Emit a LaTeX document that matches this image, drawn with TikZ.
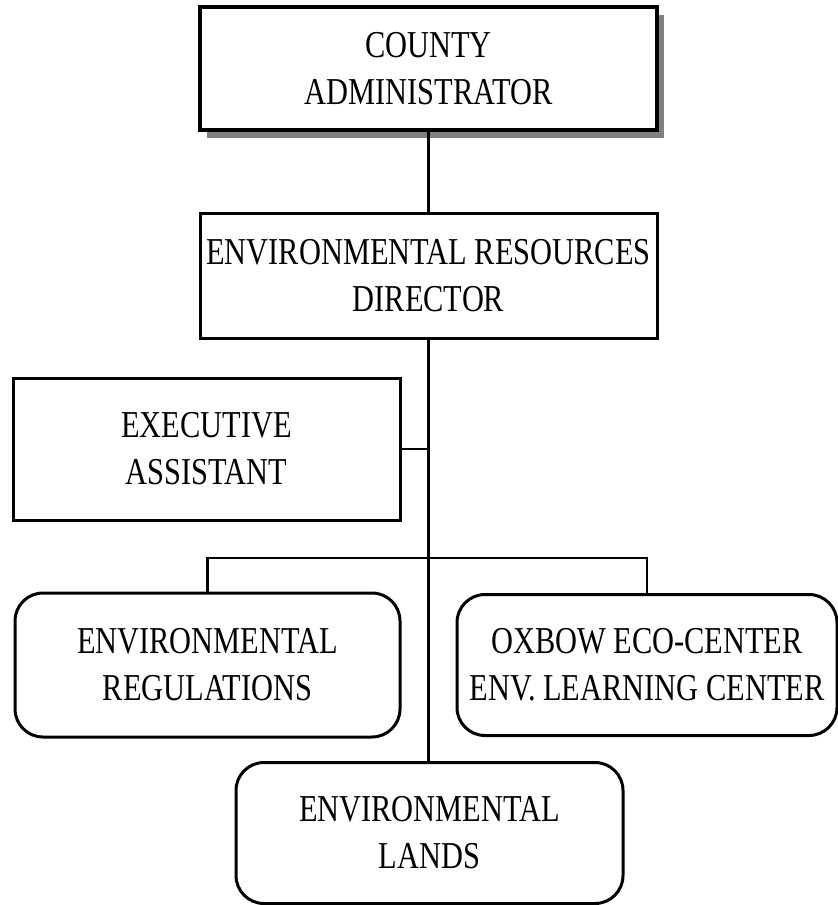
\documentclass[tikz,border=0pt]{standalone}
\usepackage{fontspec}
\setmainfont{Liberation Serif}[FakeStretch=0.80]
\usetikzlibrary{shadows}
\tikzset{
  unit/.style={draw=black, fill=white, line width=3pt, inner sep=0pt,
    align=center, font=\fontsize{38}{47}\selectfont},
  headbox/.style={unit, line width=3.2pt,
    copy shadow={shadow xshift=7pt, shadow yshift=-8pt, fill=black!50, draw=none}},
  officebox/.style={unit, rounded corners=28pt},
  link/.style={draw=black, line width=2.3pt}
}
\begin{document}
\begin{tikzpicture}[x=1pt, y=-1pt]
\useasboundingbox (0,0) rectangle (838,905);

% junction of the three office branches
\coordinate (bus) at (428.5,558);

\node[headbox, minimum width=457pt, minimum height=123pt] (admin) at (428.5,68.5)
  {COUNTY\\ADMINISTRATOR};
\node[unit, minimum width=457pt, minimum height=125pt] (dir) at (428.5,275.5)
  {ENVIRONMENTAL RESOURCES\\DIRECTOR};
\node[unit, minimum width=387pt, minimum height=142pt] (exec) at (206.5,449)
  {EXECUTIVE\\ASSISTANT};
\node[officebox, minimum width=385pt, minimum height=144pt] (regs) at (207.5,665)
  {ENVIRONMENTAL\\REGULATIONS};
\node[officebox, minimum width=380pt, minimum height=141pt] (oxbow) at (647,665)
  {OXBOW ECO-CENTER\\ENV. LEARNING CENTER};
\node[officebox, minimum width=387pt, minimum height=141pt] (lands) at (429.5,833)
  {ENVIRONMENTAL\\LANDS};

% reporting lines
\draw[link] (admin.south) -- (dir.north);
\draw[link] (dir.south) -- (dir.south |- lands.north);
\draw[link] (exec.east) -- (exec.east -| dir.south);
\draw[link] (regs.north) |- (bus) -| (oxbow.north);
\end{tikzpicture}
\end{document}
